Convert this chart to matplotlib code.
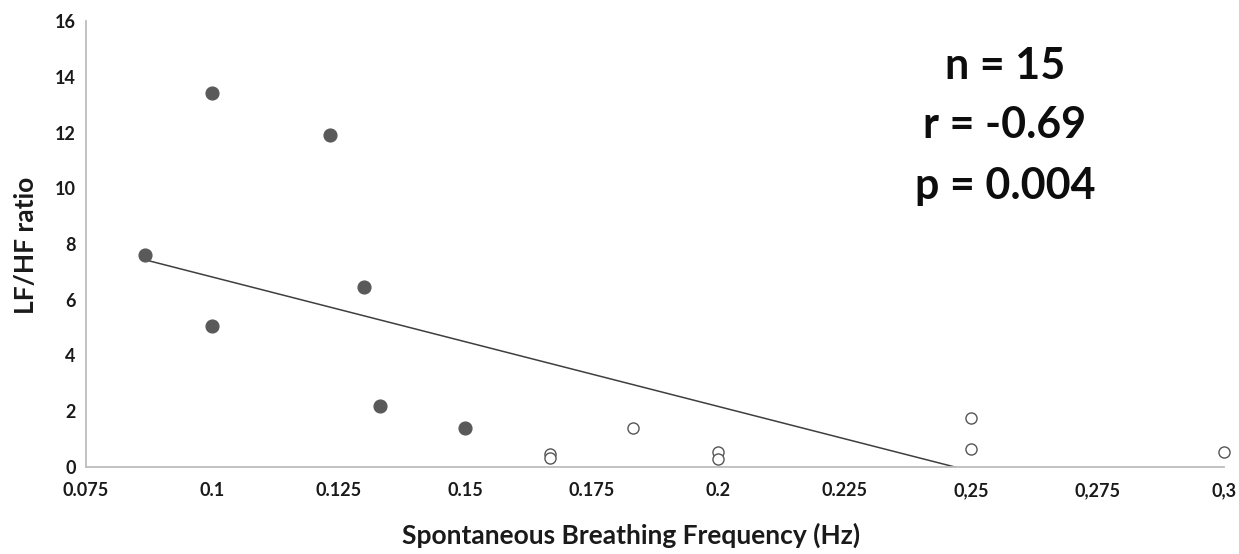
import numpy as np
import matplotlib
matplotlib.use("Agg")
import matplotlib.pyplot as plt

plt.rcParams['font.family'] = ['Lato', 'DejaVu Sans']

# Filled markers (lower breathing frequency group)
x_filled = [0.0867, 0.1, 0.1, 0.1233, 0.13, 0.1333, 0.15]
y_filled = [7.6, 13.4, 5.05, 11.9, 6.45, 2.2, 1.4]
# Open markers
x_open = [0.1667, 0.1667, 0.1833, 0.2, 0.2, 0.25, 0.25, 0.3]
y_open = [0.45, 0.33, 1.4, 0.55, 0.3, 1.75, 0.65, 0.55]

x_ticks = [0.075, 0.1, 0.125, 0.15, 0.175, 0.2, 0.225, 0.25, 0.275, 0.3]
x_ticklabels = ["0.075", "0.1", "0.125", "0.15", "0.175", "0.2", "0.225",
                "0,25", "0,275", "0,3"]
y_ticks = [0, 2, 4, 6, 8, 10, 12, 14, 16]
stats_lines = ["n = 15", "r = -0.69", "p = 0.004"]

W, H = 1239, 554
fig = plt.figure(figsize=(W / 100, H / 100), dpi=100)
ax = fig.add_axes([85.5 / W, 1 - 467 / H, (1224 - 85.5) / W, (467 - 21) / H])

# Trend line (least squares over all points)
x_all = np.array(x_filled + x_open)
y_all = np.array(y_filled + y_open)
slope, intercept = np.polyfit(x_all, y_all, 1)
xl = np.array([x_all.min(), x_all.max()])
ax.plot(xl, slope * xl + intercept, color='#3f3f3f', lw=1.1, zorder=2)

ax.plot(x_filled, y_filled, 'o', ms=9.2, color='#5a5a5a', mec='#5a5a5a',
        clip_on=False, zorder=3)
ax.plot(x_open, y_open, 'o', ms=8, mfc='white', mec='#555555', mew=1.0,
        clip_on=False, zorder=3)

ax.set_xlim(0.075, 0.3)
ax.set_ylim(0, 16)
ax.set_xticks(x_ticks)
ax.set_xticklabels(x_ticklabels)
ax.set_yticks(y_ticks)
ax.tick_params(axis='both', length=0, labelsize=13)
ax.tick_params(axis='y', pad=7)
ax.tick_params(axis='x', pad=11)
for lab in ax.get_xticklabels() + ax.get_yticklabels():
    lab.set_fontweight('bold')
    lab.set_color('#1a1a1a')

for s in ['top', 'right']:
    ax.spines[s].set_visible(False)
for s in ['left', 'bottom']:
    ax.spines[s].set_color('#bdbdbd')
    ax.spines[s].set_linewidth(1.3)

ax.set_xlabel("Spontaneous Breathing Frequency (Hz)", fontsize=19,
              fontweight='bold', color='#1a1a1a')
ax.xaxis.set_label_coords((631 - 85.5) / (1224 - 85.5), (467 - 535) / (467 - 21))
ax.xaxis.label.set_va('center')
ax.set_ylabel("LF/HF ratio", fontsize=19, fontweight='bold', color='#1a1a1a')
ax.yaxis.set_label_coords((26 - 85.5) / (1224 - 85.5), (467 - 245) / (467 - 21))
ax.yaxis.label.set_va('center')

for txt, yc in zip(stats_lines, [66, 125, 186]):
    fig.text(1005 / W, 1 - yc / H, txt, fontsize=31, fontweight='bold',
             ha='center', va='center', color='#0d0d0d')

fig.savefig("out.png", dpi=100)
